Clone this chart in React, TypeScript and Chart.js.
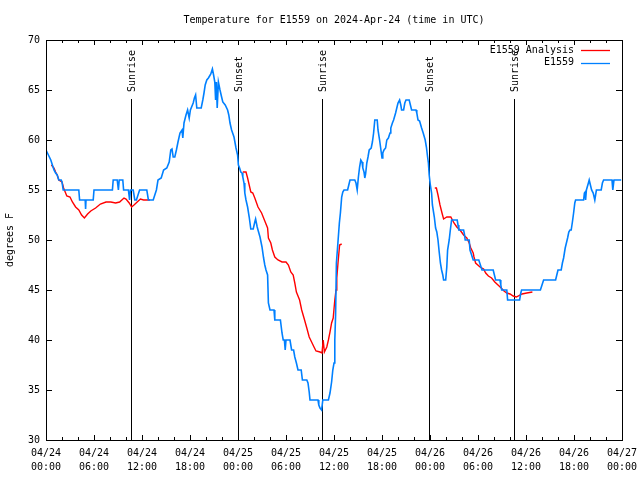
import React, { useEffect, useRef } from "react";
import { Chart, registerables } from "chart.js";

Chart.register(...registerables);

const titleText = "Temperature for E1559 on 2024-Apr-24 (time in UTC)";
const yAxisTitle = "degrees F";
const seriesNames = ["E1559 Analysis", "E1559"];
const seriesColors = ["#ff0000", "#0080ff"];

// hours since 04/24 00:00 UTC
const xTickLabels: string[][] = [
  ["04/24", "00:00"], ["04/24", "06:00"], ["04/24", "12:00"], ["04/24", "18:00"],
  ["04/25", "00:00"], ["04/25", "06:00"], ["04/25", "12:00"], ["04/25", "18:00"],
  ["04/26", "00:00"], ["04/26", "06:00"], ["04/26", "12:00"], ["04/26", "18:00"],
  ["04/27", "00:00"],
];
const yTickValues = [30, 35, 40, 45, 50, 55, 60, 65, 70];

const sunEventHours = [10.63, 24.04, 34.54, 47.91, 58.54];
const sunEventLabels = ["Sunrise", "Sunset", "Sunrise", "Sunset", "Sunrise"];

// [hour, °F] ; null marks a gap
const analysisSeries: [number, number | null][] = [
  [0.67, 57.5], [1.0, 57.2], [1.2, 56.8], [1.4, 56.5], [1.6, 56], [2.0, 55.8], [2.2, 55.2],
  [2.6, 54.4], [3.0, 54.3], [3.3, 53.8], [3.7, 53.3], [4.1, 53], [4.45, 52.5], [4.8, 52.2],
  [5.2, 52.6], [5.6, 52.9], [6.2, 53.2], [6.8, 53.6], [7.5, 53.8], [8.1, 53.8], [8.7, 53.7],
  [9.2, 53.8], [9.75, 54.2], [10.0, 54.1], [10.4, 53.7], [10.7, 53.3], [11.0, 53.5],
  [11.4, 53.8], [11.8, 54.1], [12.2, 54.0], [13.0, 54.0],
  [18.0, null],
  [24.6, 56.8], [25.0, 56.8], [25.2, 56.2], [25.4, 55.5], [25.6, 54.8], [25.85, 54.7],
  [26.1, 54.2], [26.5, 53.3], [26.95, 52.7], [27.4, 51.8], [27.7, 51.2], [27.8, 50.2],
  [28.1, 49.7], [28.3, 49], [28.6, 48.3], [29.0, 48], [29.5, 47.8], [30.0, 47.8],
  [30.3, 47.5], [30.6, 46.8], [30.9, 46.5], [31.1, 45.7], [31.3, 44.8], [31.7, 44],
  [31.96, 43], [32.25, 42.2], [32.6, 41.2], [32.9, 40.3], [33.2, 39.8], [33.5, 39.3],
  [33.75, 38.9], [34.25, 38.8], [34.5, 38.7], [34.65, 40], [34.8, 38.8], [35.1, 39.3],
  [35.3, 40], [35.5, 40.8], [35.7, 41.7], [35.9, 42.2], [36.1, 44], [36.25, 45],
  [36.35, 46.2], [36.5, 47.7], [36.7, 49.5], [36.96, 49.6],
  [42.0, null],
  [48.6, 55.2], [48.8, 55.2], [49.0, 54.5], [49.25, 53.5], [49.5, 52.7], [49.7, 52.1],
  [50.1, 52.3], [50.6, 52.3], [51.0, 51.7], [51.35, 51.3], [51.75, 51], [52.2, 50.5],
  [52.6, 50.2], [52.9, 49.7], [53.1, 49.2], [53.4, 48.7], [53.5, 48.3], [53.7, 47.7],
  [54.25, 47.3], [54.7, 47.1], [54.96, 46.7], [55.3, 46.4], [55.7, 46.2], [56.1, 45.8],
  [56.5, 45.5], [56.9, 45.2], [57.25, 44.9], [57.6, 44.7], [58.0, 44.6], [58.4, 44.4],
  [58.8, 44.3], [59.5, 44.6], [60.1, 44.7], [60.8, 44.8],
];

const observedSeries: [number, number][] = [
  [0, 59], [0.3, 58.5], [0.6, 58], [0.8, 57.5], [1.0, 57], [1.2, 56.7], [1.4, 56.5],
  [1.6, 56], [1.9, 56], [2.0, 55.8], [2.15, 55], [4.1, 55], [4.2, 54], [4.9, 54],
  [4.95, 53.1], [5.0, 54], [5.9, 54], [6.0, 55], [8.3, 55], [8.4, 56], [8.9, 56],
  [9.05, 55], [9.15, 56], [9.6, 56], [9.7, 55], [10.3, 55], [10.45, 54], [10.55, 55],
  [10.9, 55], [11.1, 54], [11.3, 54], [11.7, 55], [12.6, 55], [12.8, 54], [13.4, 54],
  [13.6, 54.5], [13.8, 55], [14.0, 56], [14.4, 56.2], [14.7, 57], [15.1, 57.2],
  [15.4, 57.8], [15.6, 59], [15.75, 59.1], [15.9, 58.3], [16.1, 58.3], [16.3, 59],
  [16.5, 59.8], [16.75, 60.7], [17.0, 61], [17.1, 60.2], [17.25, 61.7], [17.5, 62.5],
  [17.7, 63], [17.9, 62.2], [18.05, 63], [18.4, 63.7], [18.55, 64.2], [18.7, 64.5],
  [18.85, 63.2], [19.4, 63.2], [19.6, 64], [19.75, 64.7], [19.9, 65.5], [20.1, 66],
  [20.3, 66.2], [20.45, 66.4], [20.6, 66.6], [20.8, 67.1], [20.95, 66.5], [21.1, 65.8],
  [21.2, 64], [21.3, 65.8], [21.4, 63.2], [21.55, 65.8], [21.75, 65], [21.95, 64.3],
  [22.1, 63.8], [22.4, 63.5], [22.7, 63], [22.85, 62.5], [23.0, 61.7], [23.2, 61],
  [23.5, 60.3], [23.75, 59.2], [23.95, 58.5], [24.05, 57.5], [24.2, 57.2], [24.35, 56.8],
  [24.5, 56.7], [24.6, 56.3], [24.75, 55.7], [24.85, 54.7], [25.0, 54], [25.2, 53.3],
  [25.4, 52.3], [25.6, 51.1], [25.9, 51.1], [26.1, 51.8], [26.2, 52.1], [26.4, 51.3],
  [26.5, 51], [26.75, 50.3], [27.0, 49.3], [27.2, 48.2], [27.35, 47.5], [27.5, 47],
  [27.7, 46.5], [27.8, 43.7], [28.0, 43], [28.5, 43], [28.6, 42], [29.3, 42],
  [29.5, 40.7], [29.65, 40], [29.8, 40], [29.9, 39], [30.0, 40], [30.5, 40], [30.7, 39],
  [30.95, 39], [31.1, 38.3], [31.3, 37.7], [31.5, 37], [31.9, 37], [32.05, 36],
  [32.6, 36], [32.75, 35.7], [32.9, 34.8], [33.0, 34], [34.0, 34], [34.1, 33.5],
  [34.25, 33.2], [34.45, 33], [34.6, 34], [35.3, 34], [35.5, 34.7], [35.7, 35.8],
  [35.85, 37], [36.0, 37.7], [36.1, 40], [36.2, 42.5], [36.3, 47.7], [36.45, 49.3],
  [36.67, 51.7], [36.8, 52.7], [36.96, 54.3], [37.1, 54.8], [37.25, 55], [37.7, 55],
  [37.85, 55.5], [38.0, 56], [38.6, 56], [38.75, 55.7], [38.9, 55], [39.05, 56.3],
  [39.2, 57.3], [39.35, 58], [39.5, 57.8], [39.6, 57.2], [39.75, 56.8], [39.85, 56.2],
  [39.95, 56.6], [40.1, 57.7], [40.25, 58.3], [40.4, 59], [40.65, 59.2], [40.8, 59.8],
  [40.95, 60.7], [41.1, 62], [41.4, 62], [41.5, 61], [41.7, 60], [41.9, 58.8],
  [42.0, 58.2], [42.1, 58.7], [42.25, 59], [42.45, 59.2], [42.6, 60], [42.8, 60.2],
  [43.0, 60.7], [43.1, 61.2], [43.3, 61.7], [43.45, 62], [43.7, 62.7], [43.85, 63.2],
  [44.0, 63.7], [44.2, 64], [44.35, 63.5], [44.45, 63], [44.7, 63], [44.85, 63.7],
  [45.0, 64], [45.4, 64], [45.55, 63.5], [45.7, 63], [46.25, 63], [46.35, 62.7],
  [46.5, 62], [46.7, 61.9], [46.95, 61.2], [47.15, 60.7], [47.4, 60], [47.55, 59.3],
  [47.7, 58.3], [47.8, 57.7], [47.9, 56.5], [48.04, 55.5], [48.2, 54.7], [48.3, 53.5],
  [48.54, 52.3], [48.7, 51.2], [48.85, 50.8], [49.0, 50], [49.15, 48.8], [49.3, 47.7],
  [49.45, 47], [49.6, 46.5], [49.7, 46], [49.96, 46], [50.1, 47.3], [50.2, 49],
  [50.4, 50], [50.54, 51], [50.7, 52], [51.4, 52], [51.5, 51.5], [51.6, 51], [52.2, 51],
  [52.3, 50.6], [52.4, 50], [52.9, 50], [53.0, 49], [53.2, 48.5], [53.4, 48], [54.1, 48],
  [54.3, 47.5], [54.5, 47], [55.9, 47], [56.05, 46.5], [56.2, 46], [56.75, 46],
  [56.85, 45.5], [56.96, 45], [57.6, 45], [57.7, 44], [59.2, 44], [59.35, 44.7],
  [59.45, 45], [61.8, 45], [62.0, 45.5], [62.2, 46], [63.7, 46], [63.85, 46.5], [64.0, 47],
  [64.4, 47], [64.55, 47.7], [64.7, 48.2], [64.8, 48.7], [64.9, 49.2], [65.05, 49.7],
  [65.2, 50.2], [65.35, 50.8], [65.5, 51], [65.65, 51], [65.8, 51.8], [65.95, 52.7],
  [66.1, 53.7], [66.2, 54], [67.2, 54], [67.3, 54.7], [67.4, 54.8], [67.45, 54],
  [67.55, 55], [67.8, 55.7], [67.9, 56], [68.05, 55.5], [68.2, 55], [68.4, 54.7],
  [68.6, 54], [68.8, 55], [69.4, 55], [69.55, 55.7], [69.7, 56], [70.75, 56], [70.85, 55],
  [71.0, 56], [71.9, 56],
];

const FONT_FAMILY = '"DejaVu Sans Mono", "Liberation Mono", monospace';
const FONT = `10px ${FONT_FAMILY}`;

const gnuplotPlugin = {
  id: "gnuplotDecor",
  beforeDatasetsDraw(chart: any) {
    const { ctx, chartArea: a, scales } = chart;
    const xs = scales.x;
    ctx.save();
    ctx.strokeStyle = "#000";
    ctx.fillStyle = "#000";
    ctx.lineWidth = 1;
    ctx.font = FONT;
    const lineTop = a.top + 59;
    sunEventHours.forEach((h, i) => {
      const px = Math.round(xs.getPixelForValue(h)) + 0.5;
      ctx.beginPath();
      ctx.moveTo(px, a.bottom);
      ctx.lineTo(px, lineTop);
      ctx.stroke();
      ctx.save();
      ctx.translate(px + 1, lineTop - 7);
      ctx.rotate(-Math.PI / 2);
      ctx.textAlign = "left";
      ctx.textBaseline = "middle";
      ctx.fillText(sunEventLabels[i], 0, 0);
      ctx.restore();
    });
    ctx.restore();
  },
  afterDraw(chart: any) {
    const { ctx, chartArea: a, scales } = chart;
    const xs = scales.x;
    const ys = scales.y;
    ctx.save();
    ctx.strokeStyle = "#000";
    ctx.lineWidth = 1;
    // frame
    ctx.strokeRect(Math.round(a.left) + 0.5, Math.round(a.top) + 0.5, Math.round(a.right - a.left), Math.round(a.bottom - a.top));
    // y ticks (inward, both sides)
    ctx.beginPath();
    yTickValues.forEach((v) => {
      const py = Math.round(ys.getPixelForValue(v)) + 0.5;
      ctx.moveTo(a.left, py);
      ctx.lineTo(a.left + 6, py);
      ctx.moveTo(a.right, py);
      ctx.lineTo(a.right - 6, py);
    });
    // x ticks: major every 6h, minor every 2h
    for (let h = 0; h <= 72; h += 2) {
      const px = Math.round(xs.getPixelForValue(h)) + 0.5;
      const len = h % 6 === 0 ? 5 : 3;
      ctx.moveTo(px, a.bottom);
      ctx.lineTo(px, a.bottom - len);
      ctx.moveTo(px, a.top);
      ctx.lineTo(px, a.top + len);
    }
    ctx.stroke();

    ctx.fillStyle = "#000";
    ctx.font = FONT;
    // title
    ctx.textAlign = "center";
    ctx.textBaseline = "middle";
    ctx.fillText(titleText, (a.left + a.right) / 2, 20);
    // y axis title
    ctx.save();
    ctx.translate(10, (a.top + a.bottom) / 2);
    ctx.rotate(-Math.PI / 2);
    ctx.fillText(yAxisTitle, 0, 0);
    ctx.restore();
    // legend
    const ds = chart.data.datasets;
    ds.forEach((d: any, i: number) => {
      const ly = a.top + 10 + i * 12.5;
      ctx.textAlign = "right";
      ctx.fillStyle = "#000";
      ctx.fillText(d.label, a.right - 48, ly);
      ctx.strokeStyle = d.borderColor;
      ctx.lineWidth = 1.3;
      ctx.beginPath();
      ctx.moveTo(a.right - 41, Math.round(ly) + 0.5);
      ctx.lineTo(a.right - 12, Math.round(ly) + 0.5);
      ctx.stroke();
    });
    ctx.restore();
  },
};

export default function App() {
  const canvasRef = useRef<HTMLCanvasElement | null>(null);

  useEffect(() => {
    if (!canvasRef.current) return;
    const chart = new Chart(canvasRef.current, {
      type: "line",
      data: {
        datasets: [
          {
            label: seriesNames[0],
            data: analysisSeries.map(([x, y]) => ({ x, y })),
            borderColor: seriesColors[0],
            backgroundColor: seriesColors[0],
            borderWidth: 1.4,
            pointRadius: 0,
            tension: 0,
            spanGaps: false,
            order: 2,
          },
          {
            label: seriesNames[1],
            data: observedSeries.map(([x, y]) => ({ x, y })),
            borderColor: seriesColors[1],
            backgroundColor: seriesColors[1],
            borderWidth: 1.6,
            pointRadius: 0,
            tension: 0,
            order: 1,
          },
        ] as any,
      },
      plugins: [gnuplotPlugin],
      options: {
        animation: false,
        responsive: false,
        events: [],
        layout: { padding: { left: 0, right: 18, top: 40, bottom: 0 } },
        plugins: {
          legend: { display: false },
          title: { display: false },
          tooltip: { enabled: false },
        },
        scales: {
          x: {
            type: "linear",
            min: 0,
            max: 72,
            grid: { display: false, drawTicks: false },
            border: { display: false },
            afterFit: (s: any) => {
              s.height = 40;
              s.paddingLeft = 0;
              s.paddingRight = 0;
            },
            ticks: {
              stepSize: 6,
              autoSkip: false,
              maxRotation: 0,
              padding: 6,
              color: "#000",
              font: { family: FONT_FAMILY, size: 10, lineHeight: 1.4 },
              callback: (v: any) => xTickLabels[Math.round(Number(v) / 6)],
            },
          },
          y: {
            type: "linear",
            min: 30,
            max: 70,
            grid: { display: false, drawTicks: false },
            border: { display: false },
            afterFit: (s: any) => {
              s.width = 46;
              s.paddingTop = 0;
              s.paddingBottom = 0;
            },
            ticks: {
              stepSize: 5,
              padding: 6,
              color: "#000",
              font: { family: FONT_FAMILY, size: 10 },
              callback: (v: any) => String(v),
            },
          },
        },
      } as any,
    });
    return () => chart.destroy();
  }, []);

  return (
    <div style={{ position: "absolute", left: 0, top: 0, width: 640, height: 480, background: "#fff" }}>
      <canvas ref={canvasRef} width={640} height={480} />
    </div>
  );
}
